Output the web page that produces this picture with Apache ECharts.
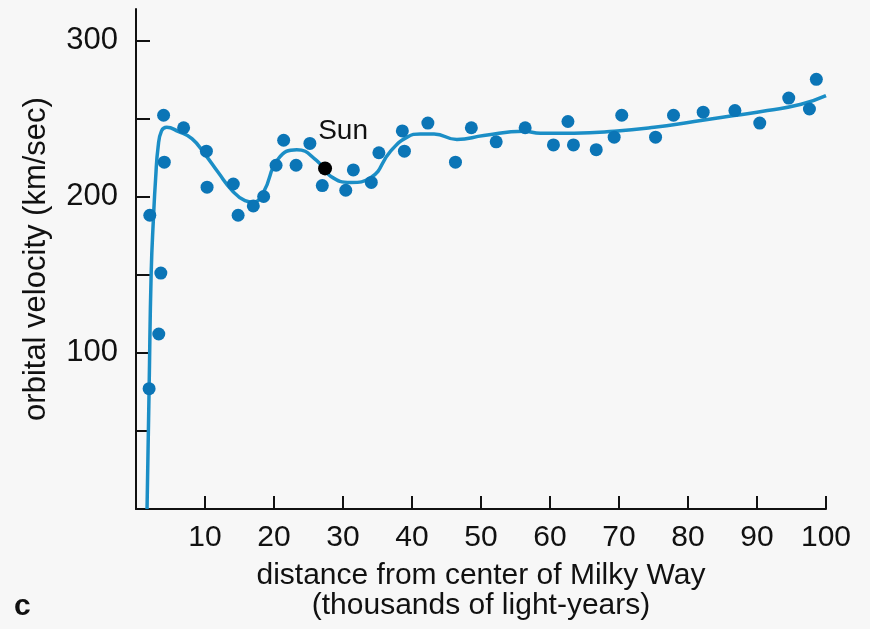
<!DOCTYPE html>
<html>
<head>
<meta charset="utf-8">
<script src="https://cdn.jsdelivr.net/npm/echarts@6/dist/echarts.min.js"></script>
<style>
  html, body { margin: 0; padding: 0; background: #f7f7f7; }
  #chart { width: 870px; height: 629px; }
</style>
</head>
<body>
<div id="chart"></div>
<script>
// measured points (thousands of light-years, km/sec)
const dotDistance = [1.9, 2.0, 3.3, 3.6, 4.0, 4.1, 6.9, 10.2, 10.3, 14.1, 14.8, 17.0, 18.5, 20.3, 21.4, 23.2, 25.2, 27.0,
  30.4, 31.5, 34.1, 35.2, 38.6, 38.9, 42.3, 46.3, 48.6, 52.2, 56.4, 60.5, 62.6, 63.4, 66.7, 69.3, 70.4, 75.3, 77.9,
  82.2, 86.8, 90.4, 94.6, 97.6, 98.6];
const dotVelocity = [77, 188, 112, 151, 252, 222, 244, 229, 206, 208, 188, 194, 200, 220, 236, 220, 234, 207,
  204, 217, 209, 228, 242, 229, 247, 222, 244, 235, 244, 233, 248, 233, 230, 238, 252, 238, 252,
  254, 255, 247, 263, 256, 275];

// fitted rotation curve
const curveDistance = [1.6, 1.9, 2.2, 2.55, 2.85, 3.2, 3.7, 4.45, 6.1, 8.1, 10.0, 11.9, 13.9, 15.8, 17.0, 18.5,
  20.6, 23.3, 26.2, 28.2, 31.1, 34.0, 36.9, 39.3, 41.2, 43.2, 46.5, 50.4, 56.2, 58.6, 63.5, 69.3,
  75.1, 80.9, 86.7, 91.5, 96.4, 100];
const curveVelocity = [0, 77, 151, 188, 212, 231.5, 242, 244.3, 241.7, 237, 227, 215.5, 204, 197.4, 196.4, 203,
  224, 230, 223, 213, 209, 212, 229, 238, 240, 240, 236.5, 239, 241.7, 240.5, 240.5, 241.7,
  244.3, 248, 251.8, 255, 259, 264.5];

const sunPoint = [27.4, 218];

const xTicks = [10, 20, 30, 40, 50, 60, 70, 80, 90, 100];
const yTicks = [50, 100, 150, 200, 250, 300];
const yLabels = [100, 200, 300];

const chart = echarts.init(document.getElementById('chart'));
const font = '"Liberation Sans", Arial, sans-serif';

chart.setOption({
  backgroundColor: '#f7f7f7',
  animation: false,
  grid: { left: 136, right: 44, top: 9, bottom: 120 },
  xAxis: {
    type: 'value',
    min: 0,
    max: 100,
    name: 'distance from center of Milky Way\n(thousands of light-years)',
    nameLocation: 'middle',
    nameGap: 52,
    nameTextStyle: { color: '#111', fontSize: 30, fontFamily: font, lineHeight: 30 },
    splitLine: { show: false },
    axisLine: { onZero: false, lineStyle: { color: '#111', width: 2 } },
    axisTick: { inside: true, length: 13, lineStyle: { color: '#111', width: 2 }, customValues: xTicks },
    axisLabel: { color: '#111', fontSize: 30, fontFamily: font, margin: 14, customValues: xTicks }
  },
  yAxis: {
    type: 'value',
    min: 0,
    max: 320,
    name: 'orbital velocity (km/sec)',
    nameLocation: 'middle',
    nameGap: 84,
    nameTextStyle: { color: '#111', fontSize: 31, fontFamily: font },
    splitLine: { show: false },
    axisLine: { show: true, lineStyle: { color: '#111', width: 2 } },
    axisTick: { show: true, inside: true, length: 14, lineStyle: { color: '#111', width: 2 }, customValues: yTicks },
    axisLabel: { color: '#111', fontSize: 31, fontFamily: font, margin: 18, customValues: yLabels }
  },
  graphic: [{
    type: 'text',
    left: 14,
    top: 592,
    style: { text: 'c', fill: '#111', font: 'bold 30px ' + font }
  }],
  series: [
    {
      type: 'line',
      data: curveDistance.map((d, i) => [d, curveVelocity[i]]),
      smooth: 0.5,
      showSymbol: false,
      lineStyle: { color: '#1b8ec6', width: 3.5 },
      z: 2
    },
    {
      type: 'scatter',
      data: dotDistance.map((d, i) => [d, dotVelocity[i]]),
      symbolSize: 13,
      itemStyle: { color: '#0b75b6', opacity: 1 },
      z: 3
    },
    {
      type: 'scatter',
      data: [sunPoint],
      symbolSize: 14,
      itemStyle: { color: '#000', opacity: 1 },
      label: {
        show: true,
        formatter: 'Sun',
        position: 'inside',
        offset: [18, -37],
        color: '#111',
        fontSize: 28,
        fontFamily: font
      },
      z: 4
    }
  ]
});
</script>
</body>
</html>
